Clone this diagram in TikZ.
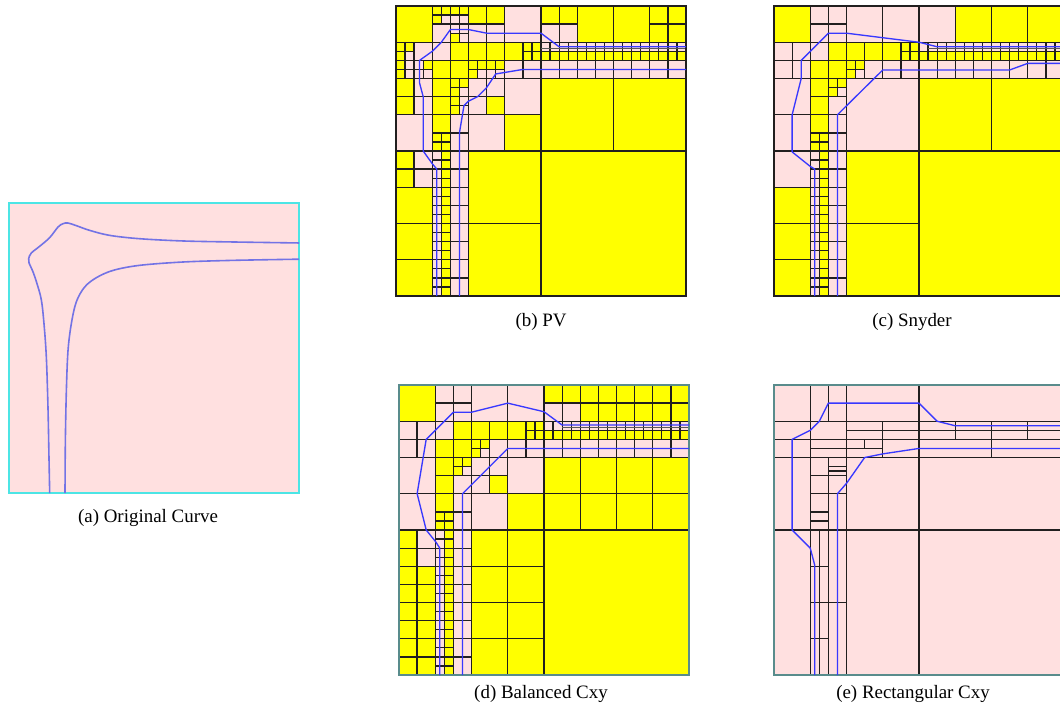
\documentclass[tikz,border=0pt]{standalone}
\usepackage{fontspec}
\setmainfont{Liberation Serif}
\tikzset{ % cell and curve styles
    ycell/.style={fill=cellyel, draw=gridc, line width=0.95pt},
    pcell/.style={fill=cellpink, draw=gridc, line width=0.95pt},
    qpath/.style={draw=pathblue, line width=1pt, line join=round},
    ocurve/.style={draw=origblue, line width=1.2pt},
    origbox/.style={fill=cellpink, draw=origframe, line width=0.8pt},
    panelframe/.style={draw=gridc, line width=0.95pt},
    tealframe/.style={draw=edgeteal, line width=0.95pt},
    thinrule/.style={draw=gray!70!black, line width=0.5pt},
    subcap/.style={font=\fontsize{14.2}{17}\selectfont, inner sep=0pt},
    panel/.style={x=6.797pt, y=-6.797pt},
}
\definecolor{cellyel}{rgb}{1,1,0}
\definecolor{cellpink}{rgb}{1,0.878,0.878}
\definecolor{gridc}{rgb}{0.13,0.12,0.12}
\definecolor{pathblue}{rgb}{0.22,0.22,1}
\definecolor{origblue}{rgb}{0.45,0.45,0.9}
\definecolor{origframe}{rgb}{0.3,0.9,0.9}
\definecolor{edgeteal}{rgb}{0.35,0.55,0.55}

\begin{document}
\begin{tikzpicture}[x=0.75pt, y=-0.75pt]
	\useasboundingbox (0,0) rectangle (1060,707);
	\clip (0,0) rectangle (1060,707);
	% (a) original curve
	\begin{scope}[xshift=6.75pt, yshift=-152.25pt, panel]
		\draw[origbox] (0,0) rectangle (32,32);
		\draw[ocurve] plot[smooth, tension=0.55] coordinates {(4.49,32) (4.41,28) (4.30,22.5) (4.12,17) (3.86,13.3) (3.57,10.7) (3.09,8.9) (2.65,7.6) (2.21,6.6) (2.17,6.14) (2.46,5.52) (3.38,4.78) (4.49,3.82) (5.41,2.65) (5.96,2.28) (6.51,2.21) (7.43,2.5) (8.9,3.02) (11.1,3.57) (14.4,3.94) (19.2,4.19) (24.7,4.3) (32,4.41)};
		\draw[ocurve] plot[smooth, tension=0.55] coordinates {(6.18,32) (6.22,26.2) (6.33,20.7) (6.51,16.3) (6.88,13.3) (7.43,10.9) (8.35,9.27) (9.64,8.24) (11.5,7.43) (14.4,6.88) (19.2,6.51) (24.7,6.33) (32,6.2)};
	\end{scope}
	% (b) PV
	\begin{scope}[xshift=297pt, yshift=-4.5pt, panel]
		\foreach \x/\y/\sz in {0/0/4, 4/0/1, 5/0/1, 4/1/1, 6/0/1, 7/0/1, 6/3/1,
			0/4/1, 1/4/1, 0/5/1, 0/6/1, 0/7/1, 3/6/1, 6/4/2, 4/6/2, 6/6/2,
			8/0/2, 10/0/2, 8/4/2, 10/4/2, 8/6/1, 9/6/1, 8/7/1, 10/6/1, 11/6/1,
			12/4/2, 14/4/1, 15/4/1, 14/5/1, 15/5/1,
			0/8/2, 0/10/2, 4/8/2, 6/8/1, 7/8/1, 6/9/1, 4/10/2, 6/10/1, 6/11/1,
			4/12/2, 4/14/1, 5/14/1, 4/15/1, 5/15/1, 10/10/2, 12/12/4,
			16/0/2, 18/0/2, 20/0/4, 24/0/4, 28/0/2, 30/0/2, 28/2/2, 30/2/2,
			16/8/8, 24/8/8, 16/16/16, 0/16/2, 0/18/2, 0/20/4, 0/24/4, 0/28/4,
			8/16/8, 8/24/8}
			\draw[ycell] (\x,\y) rectangle ++(\sz,\sz);
		\foreach \i in {16,...,31} {
			\draw[ycell] (\i,5) rectangle ++(1,1);
			\draw[ycell] (5,\i) rectangle ++(1,1);
			\draw[pcell] (\i,4) rectangle ++(1,1);
			\draw[pcell] (4,\i) rectangle ++(1,1);
		}
		\foreach \x/\y/\sz in {5/1/1, 6/1/1, 7/1/1, 4/2/2, 6/2/1, 7/2/1, 7/3/1,
			1/5/1, 2/4/2, 1/6/1, 1/7/1, 2/6/1, 2/7/1, 3/7/1, 4/4/2,
			8/2/2, 10/2/2, 12/0/4, 9/7/1, 10/7/1, 11/7/1, 12/6/2, 14/6/2,
			2/8/2, 2/10/2, 7/9/1, 7/10/1, 7/11/1, 0/12/4, 6/12/2, 6/14/2,
			8/8/2, 10/8/2, 8/10/2, 12/8/4, 8/12/4, 16/2/2, 18/2/2, 2/16/2, 2/18/2}
			\draw[pcell] (\x,\y) rectangle ++(\sz,\sz);
		\foreach \i in {16,18,...,30} {
			\draw[pcell] (\i,6) rectangle ++(2,2);
			\draw[pcell] (6,\i) rectangle ++(2,2);
		}
		\draw[thinrule] (16,4.72) -- (32,4.72);
		\draw[panelframe] (0,0) rectangle (32,32);
		\draw[qpath] (4.5,32) -- (4.5,18) -- (4,17.4) -- (3,16) -- (3,10) -- (2.6,8.5) -- (2.6,6) -- (4,5) -- (5,4) -- (6,2.6) -- (8,2.6) -- (10,3) -- (16,3) -- (18,4.5) -- (32,4.5);
		\draw[qpath] (7,32) -- (7,14) -- (7.5,11) -- (8,10.5) -- (9,10) -- (10,9) -- (11,7.5) -- (14,7) -- (32,7);
	\end{scope}
	% (c) Snyder
	\begin{scope}[xshift=580.5pt, yshift=-4.5pt, panel]
		\foreach \x/\y/\sz in {0/0/4, 20/0/4, 24/0/4, 28/0/4, 6/4/2, 8/4/2, 10/4/2, 12/4/2,
			14/4/1, 15/4/1, 14/5/1, 15/5/1, 4/6/2, 6/6/2, 8/6/1, 9/6/1, 8/7/1,
			16/8/8, 24/8/8, 4/8/2, 6/8/1, 7/8/1, 6/9/1, 4/10/2, 4/12/2,
			4/14/1, 5/14/1, 4/15/1, 5/15/1, 0/20/4, 0/24/4, 0/28/4,
			8/16/8, 8/24/8, 16/16/16}
			\draw[ycell] (\x,\y) rectangle ++(\sz,\sz);
		\foreach \i in {16,...,31} {
			\draw[ycell] (\i,5) rectangle ++(1,1);
			\draw[ycell] (5,\i) rectangle ++(1,1);
			\draw[pcell] (\i,4) rectangle ++(1,1);
			\draw[pcell] (4,\i) rectangle ++(1,1);
		}
		\foreach \x/\y/\sz in {4/0/2, 6/0/2, 4/2/2, 6/2/2, 8/0/4, 12/0/4, 16/0/4,
			0/4/2, 2/4/2, 0/6/2, 2/6/2, 4/4/2, 9/7/1, 10/6/2, 12/6/2, 14/6/2,
			0/8/4, 0/12/4, 7/9/1, 6/10/2, 6/12/2, 6/14/2, 8/8/8, 0/16/4}
			\draw[pcell] (\x,\y) rectangle ++(\sz,\sz);
		\foreach \i in {16,18,...,30} {
			\draw[pcell] (\i,6) rectangle ++(2,2);
			\draw[pcell] (6,\i) rectangle ++(2,2);
		}
		\draw[thinrule] (17,4.72) -- (32,4.72);
		\draw[panelframe] (0,0) rectangle (32,32);
		\draw[qpath] (4.5,32) -- (4.5,18) -- (4,17.7) -- (2,16.1) -- (2,12) -- (3,8) -- (3,6) -- (6,3) -- (8,3) -- (16,4) -- (18,4.5) -- (32,4.5);
		\draw[qpath] (7,32) -- (7,12) -- (12,7.06) -- (26,7.06) -- (28,6.33) -- (32,6.33);
	\end{scope}
	% (d) Balanced Cxy
	\begin{scope}[xshift=299.25pt, yshift=-288.75pt, panel]
		\foreach \x/\y/\sz in {0/0/4, 6/4/2, 8/4/2, 10/4/2, 12/4/2, 14/4/1, 15/4/1, 14/5/1, 15/5/1,
			4/6/2, 6/6/2, 8/6/1, 9/6/1, 8/7/1, 4/8/2, 6/8/1, 7/8/1, 6/9/1,
			4/10/2, 10/10/2, 4/12/2, 4/14/1, 5/14/1, 4/15/1, 5/15/1, 12/12/4,
			16/16/16, 0/16/2, 0/18/2}
			\draw[ycell] (\x,\y) rectangle ++(\sz,\sz);
		\foreach \i in {16,18,...,30} \draw[ycell] (\i,0) rectangle ++(2,2);
		\foreach \i in {20,22,...,30} \draw[ycell] (\i,2) rectangle ++(2,2);
		\foreach \i in {16,20,24,28} \foreach \j in {8,12} \draw[ycell] (\i,\j) rectangle ++(4,4);
		\foreach \i in {0,2} \foreach \j in {20,22,...,30} \draw[ycell] (\i,\j) rectangle ++(2,2);
		\foreach \i in {8,12} \foreach \j in {16,20,24,28} \draw[ycell] (\i,\j) rectangle ++(4,4);
		\foreach \i in {16,...,31} {
			\draw[ycell] (\i,5) rectangle ++(1,1);
			\draw[ycell] (5,\i) rectangle ++(1,1);
			\draw[pcell] (\i,4) rectangle ++(1,1);
			\draw[pcell] (4,\i) rectangle ++(1,1);
		}
		\foreach \x/\y/\sz in {4/0/2, 6/0/2, 4/2/2, 6/2/2, 8/0/4, 12/0/4, 16/2/2, 18/2/2,
			0/4/2, 2/4/2, 0/6/2, 2/6/2, 4/4/2, 9/7/1, 10/6/2, 12/6/2, 14/6/2,
			0/8/4, 0/12/4, 7/9/1, 6/10/2, 8/8/2, 10/8/2, 8/10/2, 12/8/4,
			6/12/2, 8/12/4, 6/14/2, 2/16/2, 2/18/2}
			\draw[pcell] (\x,\y) rectangle ++(\sz,\sz);
		\foreach \i in {16,18,...,30} {
			\draw[pcell] (\i,6) rectangle ++(2,2);
			\draw[pcell] (6,\i) rectangle ++(2,2);
		}
		\draw[thinrule] (18,4.68) -- (32,4.68);
		\draw[tealframe] (0,0) rectangle (32,32);
		\draw[qpath] (4.5,32) -- (4.5,18) -- (4.05,17.3) -- (3,16) -- (2,12) -- (3,6) -- (6,3) -- (8,3) -- (12,2) -- (16,2.95) -- (18,4.42) -- (32,4.42);
		\draw[qpath] (7,32) -- (7,12) -- (12,7) -- (32,7);
	\end{scope}
	% (e) Rectangular Cxy
	\begin{scope}[xshift=580.5pt, yshift=-288.75pt, panel]
		\foreach \xa/\ya/\xb/\yb in {0/0/4/4, 4/0/6/4, 6/0/8/4, 8/0/16/4, 16/0/32/4,
			0/4/4/6, 0/6/4/8, 4/4/8/6, 4/6/8/7, 4/7/8/8,
			8/4/12/5, 8/5/12/6, 8/6/10/7, 10/6/12/7, 8/7/12/8,
			12/4/16/5, 12/5/16/6, 12/6/16/8, 16/4/20/5, 16/5/20/6, 20/4/24/5, 20/5/24/6,
			16/6/24/8, 24/4/28/5, 24/5/28/6, 28/4/32/5, 28/5/32/6, 24/6/32/8,
			0/8/4/16, 4/8/6/10, 4/10/6/12, 4/12/6/14, 4/14/6/15, 4/15/6/16,
			6/8/8/9, 6/9/8/9.5, 6/9.5/8/10, 6/10/8/12, 6/12/8/16, 8/8/16/16, 16/8/32/16,
			0/16/4/32, 4/16/5/20, 5/16/6/20, 4/20/5/24, 5/20/6/24, 4/24/5/28, 5/24/6/28,
			4/28/5/32, 5/28/6/32, 6/16/8/24, 6/24/8/32, 8/16/16/32, 16/16/32/32}
			\draw[pcell] (\xa,\ya) rectangle (\xb,\yb);
		\draw[tealframe] (0,0) rectangle (32,32);
		\draw[qpath] (4.5,32) -- (4.5,19.9) -- (4,18) -- (2,16) -- (2,6) -- (4,5) -- (5,4) -- (6,2) -- (16,2) -- (18,4) -- (20,4.5) -- (32,4.5);
		\draw[qpath] (7,32) -- (7,12) -- (8,10.85) -- (10,8) -- (12,7.6) -- (16,7) -- (32,7);
	\end{scope}
	% captions
	\node[subcap] (capa) at (148,518) {(a) Original Curve};
	\node[subcap] (capb) at (541,322) {(b) PV};
	\node[subcap] (capc) at (912,322) {(c) Snyder};
	\node[subcap] (capd) at (541,694) {(d) Balanced Cxy};
	\node[subcap] (cape) at (913,694) {(e) Rectangular Cxy};
\end{tikzpicture}
\end{document}
